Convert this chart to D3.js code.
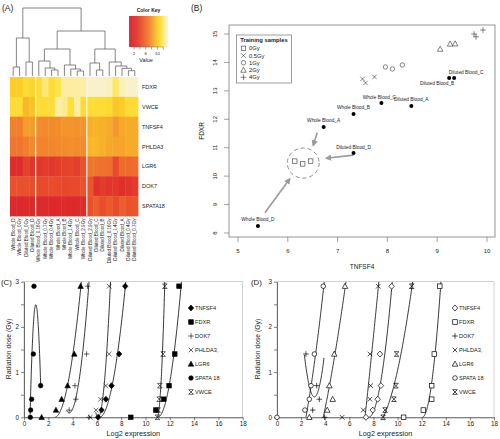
<!DOCTYPE html>
<html><head><meta charset="utf-8">
<script src="https://cdn.jsdelivr.net/npm/d3@7/dist/d3.min.js"></script>
<style>body{margin:0;background:#fff}svg{display:block}</style>
</head><body>
<svg id="chart" width="500" height="439"></svg>
<script>
// ================= DATA =================
// Panel A: heatmap
const genes = ["FDXR","VWCE","TNFSF4","PHLDA3","LGR6","DOK7","SPATA18"];
const samples = ["Whole Blood_D","Whole Blood_0Gy","Diluted Blood_0Gy","Diluted Blood_D",
  "Whole Blood_0.16Gy","Whole Blood_0.7Gy","Whole Blood_0.4Gy","Whole Blood_A","Whole Blood_B",
  "Whole Blood_1.4Gy","Whole Blood_C","Whole Blood_2.9Gy","Diluted Blood_2.9Gy","Diluted Blood_C",
  "Diluted Blood_B","Diluted Blood_0.16Gy","Diluted Blood_1.4Gy","Diluted Blood_A","Diluted Blood_0.4Gy","Diluted Blood_0.7Gy"];
const heatFDXR    = [10,10,11,10.5,11,12,11,11.5,12.5,12.5,12.5,12.5,13.3,13.3,13.3,13,11.8,13,13.3,13.3];
const heatVWCE    = [11,11,9.3,9.6,11,11,11,12.5,12.3,11.2,12.5,11,11,11,11,10.8,9.8,10,11,11];
const heatTNFSF4  = [7,7,8.3,8.3,7.6,7.4,7.5,7.6,7.9,7.9,7.8,7.9,9,9.1,9,8.8,8,8.7,8.8,8.8];
const heatPHLDA3  = [6.6,6.6,7,7.4,7.2,7.2,7.3,7.4,7.6,7.7,7.6,7.5,9.2,9.2,9,8.7,8.6,8.6,8.8,8.8];
const heatLGR6    = [2,2,3.6,2.8,3,3.2,3,3.3,3.6,3.8,3.4,4.5,6.5,6.5,6.4,6.3,4.2,6,6,6.2];
const heatDOK7    = [4.5,4.5,4.5,4.3,4.2,4.1,4.3,4.2,4.0,4.1,4.2,4.6,4.8,2.6,3.2,2.8,3,2.3,2.8,3.2];
const heatSPATA18 = [1.5,1.5,1.8,1.6,1.7,1.7,1.6,1.7,1.8,1.6,1.7,1.9,4.5,5.2,4.4,5,4.2,5.2,4.6,4.8];
const colSeparators = [4,12];
// dendrogram: [height, left, right]; leaves are column indices
const dendroTree = [68,
  [38,[9,0,1],[14,2,3]],
  [45,
    [27,[15,4,[8,5,[6,6,7]]],[11,8,[7,9,[5,10,11]]]],
    [27,[13,12,[6,13,14]],[14,15,[10,16,[7.7,17,[5.3,18,19]]]]]]];
const keyTicks = [2,4,6,8,10,12];
const keyLabels = [2,6,10];

// Panel B
const trainLabels = ["0Gy","0.5Gy","1Gy","2Gy","4Gy"];
const trainTNFSF4 = [6.14,6.30,6.46, 7.50,7.56,7.74, 7.96,8.10,8.30, 9.06,9.26,9.36, 9.74,9.78,9.92];
const trainFDXR   = [10.53,10.43,10.53, 13.42,13.28,13.49, 13.84,13.77,13.91, 14.47,14.65,14.66, 15.0,14.9,15.14];
const trainGroup  = [0,0,0, 1,1,1, 2,2,2, 3,3,3, 4,4,4];
const testNames  = ["Whole Blood_A","Whole Blood_B","Whole Blood_C","Whole Blood_D","Diluted Blood_A","Diluted Blood_B","Diluted Blood_C","Diluted Blood_D"];
const testTNFSF4 = [6.72,7.32,7.88,5.40,8.48,9.24,9.34,7.32];
const testFDXR   = [11.73,12.19,12.57,8.25,12.47,13.45,13.45,10.81];
const bXTicks = [5,6,7,8,9,10];
const bYTicks = [8,9,10,11,12,13,14,15];

// Panels C and D
const doses = [0,0.16,0.4,0.7,1.4,2.9];
const doseGenes = ["TNFSF4","FDXR","DOK7","PHLDA3,","LGR6","SPATA 18","VWCE"];
const cTNFSF4  = [6.1,6.38,6.74,7.2,7.83,8.33];
const cFDXR    = [8.79,10.85,11.5,11.94,12.41,12.76];
const cDOK7    = [5.35,3.72,4.27,4.19,5.15,5.23];
const cPHLDA3  = [5.45,5.92,6.3,6.74,7.01,7.01];
const cLGR6    = [1.45,2.63,3.1,3.59,4.14,4.66];
const cSPATA18 = [0.52,0.55,0.63,1.37,0.77,0.82];
const cVWCE    = [10.98,11.04,11.12,11.18,11.45,11.59];
const dTNFSF4  = [7.38,7.94,8.35,8.62,8.54,9.51];
const dFDXR    = [10.5,12.14,12.83,12.83,13.05,13.5];
const dDOK7    = [3.95,2.96,3.51,3.29,2.4,null];
const dPHLDA3  = [5.4,7.16,7.71,7.77,7.71,8.4];
const dLGR6    = [2.68,4.17,4.62,4.34,4.75,5.64];
const dSPATA18 = [0,2.32,2.68,2.82,3.1,3.84];
const dVWCE    = [8.8,8.96,9.7,9.87,9.92,11.17];
// polynomial trendlines (order 2): dose = b0 + b1*t + b2*t^2, t = x - from, for x in [from,to]
const cTrendFrom = [6.2,11.0,3.5,5.9,2.52,0.5,10.96];
const cTrendTo   = [8.38,12.96,5.36,7.12,4.74,1.37,11.59];
const cTrendB0   = [0,0,0.15,0.115,0,0.06,0];
const cTrendB1   = [0,0,-0.48,-1.15,0,10.34,0];
const cTrendB2   = [0.631,0.78,1.09,2.88,0.62,-11,7.56];
const dTrendFrom = [7.6,12.05,2.27,7.3,3.84,2.4,8.8];
const dTrendTo   = [9.56,13.6,3.9,8.45,5.72,3.92,11.25];
const dTrendB0   = [0,0,1.38,0,0,0,0];
const dTrendB1   = [0,0,-2.24,2.49,1.28,1.49,0.52];
const dTrendB2   = [0.78,1.25,1.35,0.106,0.168,0.316,0.287];
const doseXTicks = [0,2,4,6,8,10,12,14,16,18];
const doseYTicks = [0,1,2,3];

// ================= STYLE =================
const FONT = '"Liberation Sans", Arial, Helvetica, sans-serif';
const svg = d3.select("#chart").style("font-family", FONT);
const ink = "#222";

// ================= PANEL A =================
const A = svg.append("g");
A.append("text").attr("x",2).attr("y",11).attr("font-size",8.5).attr("fill",ink).text("(A)");
const heatRows = [heatFDXR,heatVWCE,heatTNFSF4,heatPHLDA3,heatLGR6,heatDOK7,heatSPATA18];
const hx = d3.scaleBand().domain(d3.range(samples.length)).range([10,138]);
const hy = d3.scaleBand().domain(genes).range([77,216]);
const heatColor = d3.scaleLinear()
  .domain([0.3,2.5,4.5,6.5,8.5,10,11.3,12.4,13.6])
  .range(["#d91f2b","#e0302c","#e9502c","#ef742c","#f5a22c","#fbcd26","#fde23a","#fbec9c","#f8f3dc"])
  .clamp(true);
heatRows.forEach((row,gi)=>{
  row.forEach((v,j)=>{
    A.append("rect").attr("x",hx(j)).attr("y",hy(genes[gi]))
      .attr("width",hx.bandwidth()+0.4).attr("height",hy.bandwidth()+0.4)
      .attr("fill",heatColor(v));
  });
});
colSeparators.forEach(c=>{
  A.append("rect").attr("x",hx(c)-0.6).attr("y",77).attr("width",1.2).attr("height",139)
    .attr("fill","#fbf3ea");
});
genes.forEach(g=>{
  A.append("text").attr("x",142).attr("y",hy(g)+hy.bandwidth()/2)
    .attr("dominant-baseline","central").attr("font-size",5.5).attr("fill",ink).text(g);
});
samples.forEach((s,j)=>{
  const cx = hx(j)+hx.bandwidth()/2;
  A.append("text").attr("transform",`translate(${cx},218.5) rotate(-90)`)
    .attr("text-anchor","end").attr("dominant-baseline","central")
    .attr("font-size",4.6).attr("fill",ink).text(s);
});
// dendrogram
const dy = d3.scaleLinear().domain([0,68]).range([76,8]);
const dSegs = [];
function walk(node){
  if (typeof node === "number") return {x: hx(node)+hx.bandwidth()/2, h: 0};
  const [h,l,r] = node; const L = walk(l), R = walk(r);
  dSegs.push([L.x,dy(L.h),L.x,dy(h)],[R.x,dy(R.h),R.x,dy(h)],[L.x,dy(h),R.x,dy(h)]);
  return {x:(L.x+R.x)/2, h};
}
walk(dendroTree);
A.selectAll("line.dendro").data(dSegs).join("line").attr("class","dendro")
  .attr("x1",d=>d[0]).attr("y1",d=>d[1]).attr("x2",d=>d[2]).attr("y2",d=>d[3])
  .attr("stroke","#666").attr("stroke-width",0.8);
// color key
const keyScale = d3.scaleLinear().domain([0.3,13.6]).range([129,168]);
d3.range(0.3,13.6,0.1).forEach(v=>{
  A.append("rect").attr("x",keyScale(v)).attr("y",16).attr("width",keyScale(v+0.1)-keyScale(v)+0.3)
    .attr("height",31).attr("fill",heatColor(v));
});
A.append("text").attr("x",148.5).attr("y",12).attr("text-anchor","middle")
  .attr("font-size",5).attr("font-weight","bold").attr("fill",ink).text("Color Key");
keyTicks.forEach(t=>{
  A.append("line").attr("x1",keyScale(t)).attr("x2",keyScale(t)).attr("y1",47).attr("y2",49.5)
    .attr("stroke","#555").attr("stroke-width",0.5);
});
A.append("line").attr("x1",keyScale(2)).attr("x2",keyScale(12)).attr("y1",47).attr("y2",47)
  .attr("stroke","#555").attr("stroke-width",0.4);
keyLabels.forEach(t=>{
  A.append("text").attr("x",keyScale(t)).attr("y",55).attr("text-anchor","middle")
    .attr("font-size",4.3).attr("fill",ink).text(t);
});
A.append("text").attr("x",146).attr("y",62).attr("text-anchor","middle")
  .attr("font-size",5.5).attr("fill",ink).text("Value");

// ================= PANEL B =================
const B = svg.append("g");
B.append("text").attr("x",191).attr("y",11).attr("font-size",8.5).attr("fill",ink).text("(B)");
const bx = d3.scaleLinear().domain([4.819,10.161]).range([229,495]);
const by = d3.scaleLinear().domain([7.859,15.317]).range([237,25]);
B.append("rect").attr("x",229).attr("y",25).attr("width",266).attr("height",212)
  .attr("fill","none").attr("stroke","#8a8a8a").attr("stroke-width",0.9);
bXTicks.forEach(t=>{
  B.append("line").attr("x1",bx(t)).attr("x2",bx(t)).attr("y1",237).attr("y2",242).attr("stroke","#666").attr("stroke-width",0.6);
  B.append("text").attr("x",bx(t)).attr("y",253).attr("text-anchor","middle").attr("font-size",6).attr("fill",ink).text(t);
});
bYTicks.forEach(t=>{
  B.append("line").attr("x1",229).attr("x2",224).attr("y1",by(t)).attr("y2",by(t)).attr("stroke","#666").attr("stroke-width",0.6);
  B.append("text").attr("transform",`translate(215,${by(t)}) rotate(-90)`).attr("text-anchor","middle")
    .attr("dominant-baseline","central").attr("font-size",6).attr("fill",ink).text(t);
});
B.append("text").attr("x",362).attr("y",269).attr("text-anchor","middle").attr("font-size",6.5).attr("fill",ink).text("TNFSF4");
B.append("text").attr("transform","translate(201,131) rotate(-90)").attr("text-anchor","middle")
  .attr("dominant-baseline","central").attr("font-size",6.5).attr("fill",ink).text("FDXR");

function trainSym(g,grp,cx,cy){
  const s=2.2, st={stroke:"#333","stroke-width":0.6,fill:"none"};
  let p;
  if(grp===0) p=g.append("rect").attr("x",cx-s).attr("y",cy-s).attr("width",2*s).attr("height",2*s);
  else if(grp===1) p=g.append("path").attr("d",`M${cx-s},${cy-s}L${cx+s},${cy+s}M${cx-s},${cy+s}L${cx+s},${cy-s}`);
  else if(grp===2) p=g.append("circle").attr("cx",cx).attr("cy",cy).attr("r",s);
  else if(grp===3) p=g.append("path").attr("d",`M${cx},${cy-s*1.3}L${cx+s*1.25},${cy+s}L${cx-s*1.25},${cy+s}Z`);
  else p=g.append("path").attr("d",`M${cx-s*1.3},${cy}H${cx+s*1.3}M${cx},${cy-s*1.3}V${cy+s*1.3}`);
  Object.entries(st).forEach(([k,v])=>p.attr(k,v));
}
trainTNFSF4.forEach((v,i)=>trainSym(B,trainGroup[i],bx(v),by(trainFDXR[i])));
// annotations (dashed circle + arrows)
const defs = svg.append("defs");
defs.append("marker").attr("id","ah").attr("viewBox","0 0 10 10").attr("refX",8).attr("refY",5)
  .attr("markerWidth",4).attr("markerHeight",4).attr("orient","auto")
  .append("path").attr("d","M0,0L10,5L0,10Z").attr("fill","#9a9a9a");
B.append("ellipse").attr("cx",bx(6.31)).attr("cy",by(10.46))
  .attr("rx",bx(6.63)-bx(6.31)).attr("ry",by(10.46)-by(10.99))
  .attr("fill","none").attr("stroke","#8d8d8d").attr("stroke-width",1).attr("stroke-dasharray","4,3");
const arrows = [[6.59,11.53,6.51,11.08],[7.32,10.74,6.77,10.63],[5.54,8.71,6.04,9.91]];
arrows.forEach(a=>{
  B.append("line").attr("x1",bx(a[0])).attr("y1",by(a[1])).attr("x2",bx(a[2])).attr("y2",by(a[3]))
    .attr("stroke","#9a9a9a").attr("stroke-width",1.6).attr("marker-end","url(#ah)");
});
const testLabelOffset = [[0,-6],[0,-6],[-2,-6],[0,-6],[0,-6],[-12,5],[12,-5.5],[0,-6]];
testTNFSF4.forEach((v,i)=>{
  B.append("circle").attr("cx",bx(v)).attr("cy",by(testFDXR[i])).attr("r",2).attr("fill","#000");
  B.append("text").attr("x",bx(v)+testLabelOffset[i][0]).attr("y",by(testFDXR[i])+testLabelOffset[i][1])
    .attr("text-anchor","middle").attr("dominant-baseline","central").attr("font-size",4.8).attr("fill",ink)
    .text(testNames[i]);
});
// legend
B.append("rect").attr("x",236.5).attr("y",35).attr("width",55).attr("height",48)
  .attr("fill","#fff").attr("stroke","#777").attr("stroke-width",0.7);
B.append("text").attr("x",264).attr("y",39.5).attr("text-anchor","middle").attr("dominant-baseline","central")
  .attr("font-size",5.8).attr("font-weight","bold").attr("fill",ink).text("Training samples");
trainLabels.forEach((l,i)=>{
  const yy = 48.3 + i*7.25;
  trainSym(B,i,243.5,yy);
  B.append("text").attr("x",249).attr("y",yy).attr("dominant-baseline","central")
    .attr("font-size",5.8).attr("fill",ink).text(l);
});

// ================= PANELS C & D =================
const markerTypes = ["diamond","square","plus","x","triangle","circle","star"];
function marker(g,type,cx,cy,filled){
  const h=2.3;
  const fill = filled ? "#000" : "#fff";
  let p;
  if(type==="square") p=g.append("rect").attr("x",cx-h).attr("y",cy-h).attr("width",2*h).attr("height",2*h).attr("fill",fill);
  else if(type==="diamond") p=g.append("path").attr("d",`M${cx},${cy-h*1.3}L${cx+h*1.2},${cy}L${cx},${cy+h*1.3}L${cx-h*1.2},${cy}Z`).attr("fill",fill);
  else if(type==="triangle") p=g.append("path").attr("d",`M${cx},${cy-h*1.25}L${cx+h*1.2},${cy+h*0.95}L${cx-h*1.2},${cy+h*0.95}Z`).attr("fill",fill);
  else if(type==="circle") p=g.append("circle").attr("cx",cx).attr("cy",cy).attr("r",h).attr("fill",fill);
  else if(type==="plus") p=g.append("path").attr("d",`M${cx-h*1.2},${cy}H${cx+h*1.2}M${cx},${cy-h*1.2}V${cy+h*1.2}`).attr("fill","none");
  else if(type==="x") p=g.append("path").attr("d",`M${cx-h},${cy-h}L${cx+h},${cy+h}M${cx-h},${cy+h}L${cx+h},${cy-h}`).attr("fill","none");
  else p=g.append("path").attr("d",`M${cx-h},${cy-h}L${cx+h},${cy+h}M${cx-h},${cy+h}L${cx+h},${cy-h}M${cx-h},${cy-h}H${cx+h}M${cx-h},${cy+h}H${cx+h}`).attr("fill","none");
  p.attr("stroke","#000").attr("stroke-width", filled ? 0.6 : 0.7);
}
function dosePanel(o){
  const g = svg.append("g");
  const x = d3.scaleLinear().domain([0,18]).range([o.left,o.right]);
  const y = d3.scaleLinear().domain([0,3]).range([417.3,281.7]);
  g.append("text").attr("x",o.labelX).attr("y",285).attr("font-size",7.8).attr("fill",ink).text(o.label);
  g.append("rect").attr("x",o.left).attr("y",281.7).attr("width",o.right-o.left).attr("height",135.6)
    .attr("fill","none").attr("stroke","#b5b5b5").attr("stroke-width",0.6);
  const xa = g.append("g").attr("transform","translate(0,417.3)")
    .call(d3.axisBottom(x).tickValues(doseXTicks).tickFormat(d3.format("d")).tickSize(3).tickPadding(1.5).tickSizeOuter(0));
  const ya = g.append("g").attr("transform",`translate(${o.left},0)`)
    .call(d3.axisLeft(y).tickValues(doseYTicks).tickFormat(d3.format("d")).tickSize(3).tickPadding(2).tickSizeOuter(0));
  g.append("g").attr("transform",`translate(${o.left},0)`)
    .call(d3.axisLeft(y).tickValues([0.5,1.5,2.5]).tickSize(3).tickFormat(""))
    .select(".domain").remove();
  [xa,ya].forEach(a=>{
    a.selectAll("path,line").attr("stroke","#333").attr("stroke-width",0.7);
    a.selectAll("text").attr("font-size",6.3).attr("fill",ink).attr("font-family",FONT);
  });
  g.selectAll(".tick line").attr("stroke","#333").attr("stroke-width",0.6);
  g.append("text").attr("x",(o.left+o.right)/2).attr("y",436).attr("text-anchor","middle")
    .attr("font-size",7.3).attr("fill",ink).text("Log2 expression");
  g.append("text").attr("transform",`translate(${o.ylabX},349) rotate(-90)`).attr("text-anchor","middle")
    .attr("dominant-baseline","central").attr("font-size",6.8).attr("fill",ink).text("Radiation dose (Gy)");
  // trendlines
  const clipId = "clip"+o.label.replace(/\W/g,"");
  svg.select("defs").append("clipPath").attr("id",clipId).append("rect")
    .attr("x",o.left).attr("y",281.7).attr("width",o.right-o.left).attr("height",135.6);
  const line = d3.line().x(d=>x(d[0])).y(d=>y(d[1])).curve(d3.curveLinear);
  o.series.forEach((s,k)=>{
    const f=o.from[k], t=o.to[k];
    const pts = d3.range(0,1.0001,0.01).map(u=>{
      const xv = f + u*(t-f), tt = xv - f;
      return [xv, o.b0[k] + o.b1[k]*tt + o.b2[k]*tt*tt];
    });
    g.append("path").attr("d",line(pts)).attr("fill","none").attr("stroke","#000")
      .attr("stroke-width",0.8).attr("clip-path",`url(#${clipId})`);
  });
  // points
  o.series.forEach((s,k)=>{
    s.forEach((v,i)=>{ if(v!==null) marker(g,markerTypes[k],x(v),y(doses[i]),o.filled); });
  });
  // legend
  doseGenes.forEach((n,k)=>{
    const yy = 308 + k*14;
    marker(g,markerTypes[k],o.legX,yy,o.filled);
    g.append("text").attr("x",o.legX+4).attr("y",yy).attr("dominant-baseline","central")
      .attr("font-size",5.6).attr("fill",ink).text(n);
  });
}
dosePanel({label:"(C)",labelX:1,left:24,right:242.7,ylabX:8,legX:191,filled:true,
  series:[cTNFSF4,cFDXR,cDOK7,cPHLDA3,cLGR6,cSPATA18,cVWCE],
  from:cTrendFrom,to:cTrendTo,b0:cTrendB0,b1:cTrendB1,b2:cTrendB2});
dosePanel({label:"(D)",labelX:251,left:277,right:494,ylabX:257,legX:455,filled:false,
  series:[dTNFSF4,dFDXR,dDOK7,dPHLDA3,dLGR6,dSPATA18,dVWCE],
  from:dTrendFrom,to:dTrendTo,b0:dTrendB0,b1:dTrendB1,b2:dTrendB2});
</script>
</body></html>
